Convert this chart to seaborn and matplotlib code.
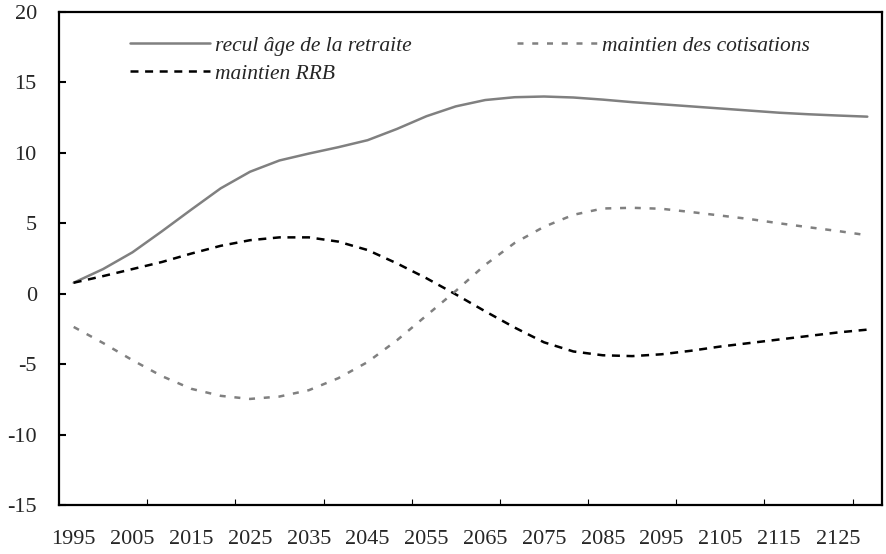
import matplotlib
matplotlib.use("Agg")
import matplotlib.pyplot as plt
import seaborn as sns
import pandas as pd

years = list(range(1995, 2131, 5))

recul_age = [0.78, 1.75, 2.94, 4.43, 5.97, 7.48, 8.66, 9.46, 9.95, 10.4,
             10.9, 11.7, 12.6, 13.3, 13.75, 13.95, 14.0, 13.93, 13.78, 13.6,
             13.45, 13.3, 13.15, 13.0, 12.85, 12.74, 12.65, 12.57]

maintien_cotisations = [-2.36, -3.5, -4.72, -5.85, -6.75, -7.25, -7.47, -7.3, -6.85, -6.0,
                        -4.85, -3.3, -1.55, 0.2, 2.05, 3.6, 4.75, 5.6, 6.05, 6.1,
                        6.03, 5.8, 5.55, 5.3, 5.0, 4.72, 4.45, 4.15]

maintien_rrb = [0.78, 1.25, 1.75, 2.25, 2.85, 3.4, 3.8, 4.0, 4.0, 3.7,
                3.1, 2.15, 1.1, -0.05, -1.25, -2.4, -3.45, -4.1, -4.37, -4.43,
                -4.3, -4.05, -3.75, -3.5, -3.25, -3.0, -2.75, -2.55]

series_names = ["recul âge de la retraite", "maintien RRB", "maintien des cotisations"]

y_ticks = [-15, -10, -5, 0, 5, 10, 15, 20]
x_label_years = list(range(1995, 2126, 10))

sns.set_theme(style="white")
plt.rcParams["font.family"] = ["Liberation Serif", "DejaVu Serif"]

idx = list(range(len(years)))
df = pd.DataFrame({"idx": idx * 3,
                   "value": recul_age + maintien_rrb + maintien_cotisations,
                   "serie": [series_names[0]] * len(idx) + [series_names[1]] * len(idx)
                            + [series_names[2]] * len(idx)})

fig = plt.figure(figsize=(8.86, 5.54), dpi=100)
ax = fig.add_axes([59 / 886, 1 - 505 / 554, (882 - 59) / 886, (505 - 12) / 554])

gray = "#808080"
sns.lineplot(data=df, x="idx", y="value", hue="serie", style="serie",
             palette={series_names[0]: gray, series_names[1]: "black", series_names[2]: gray},
             dashes={series_names[0]: "", series_names[1]: (3.2, 2.64), series_names[2]: (2.4, 3.5)},
             linewidth=1.8, ax=ax, legend=True)

ax.set_xlim(-0.5, len(years) - 0.5)
ax.set_ylim(-15, 20)
ax.set_xlabel("")
ax.set_ylabel("")

ax.set_yticks(y_ticks)
ax.set_yticklabels([str(v) for v in y_ticks], fontsize=16)

label_pos = [years.index(y) for y in x_label_years]
ax.set_xticks(label_pos)
ax.set_xticklabels([str(y) for y in x_label_years], fontsize=16)
ax.set_xticks([2.5 + 3 * k for k in range(9)], minor=True)
ax.tick_params(axis="x", which="major", length=0, pad=18)
ax.tick_params(axis="x", which="minor", direction="in", length=4.5, width=0.8, color="black", bottom=True)
ax.tick_params(axis="y", which="major", direction="in", length=5, width=1.5, color="black", pad=16, left=True)

for s in ax.spines.values():
    s.set_color("black")
    s.set_linewidth(1.6)

handles, labels = ax.get_legend_handles_labels()
ax.legend(handles, labels, loc="upper left", bbox_to_anchor=(0.0863, 0.952), ncol=2,
          frameon=False, prop={"style": "italic", "size": 15.5}, handlelength=3.7,
          handletextpad=0.25, columnspacing=4.9, labelspacing=0.38, borderpad=0,
          borderaxespad=0)

fig.savefig("out.png", dpi=100)
